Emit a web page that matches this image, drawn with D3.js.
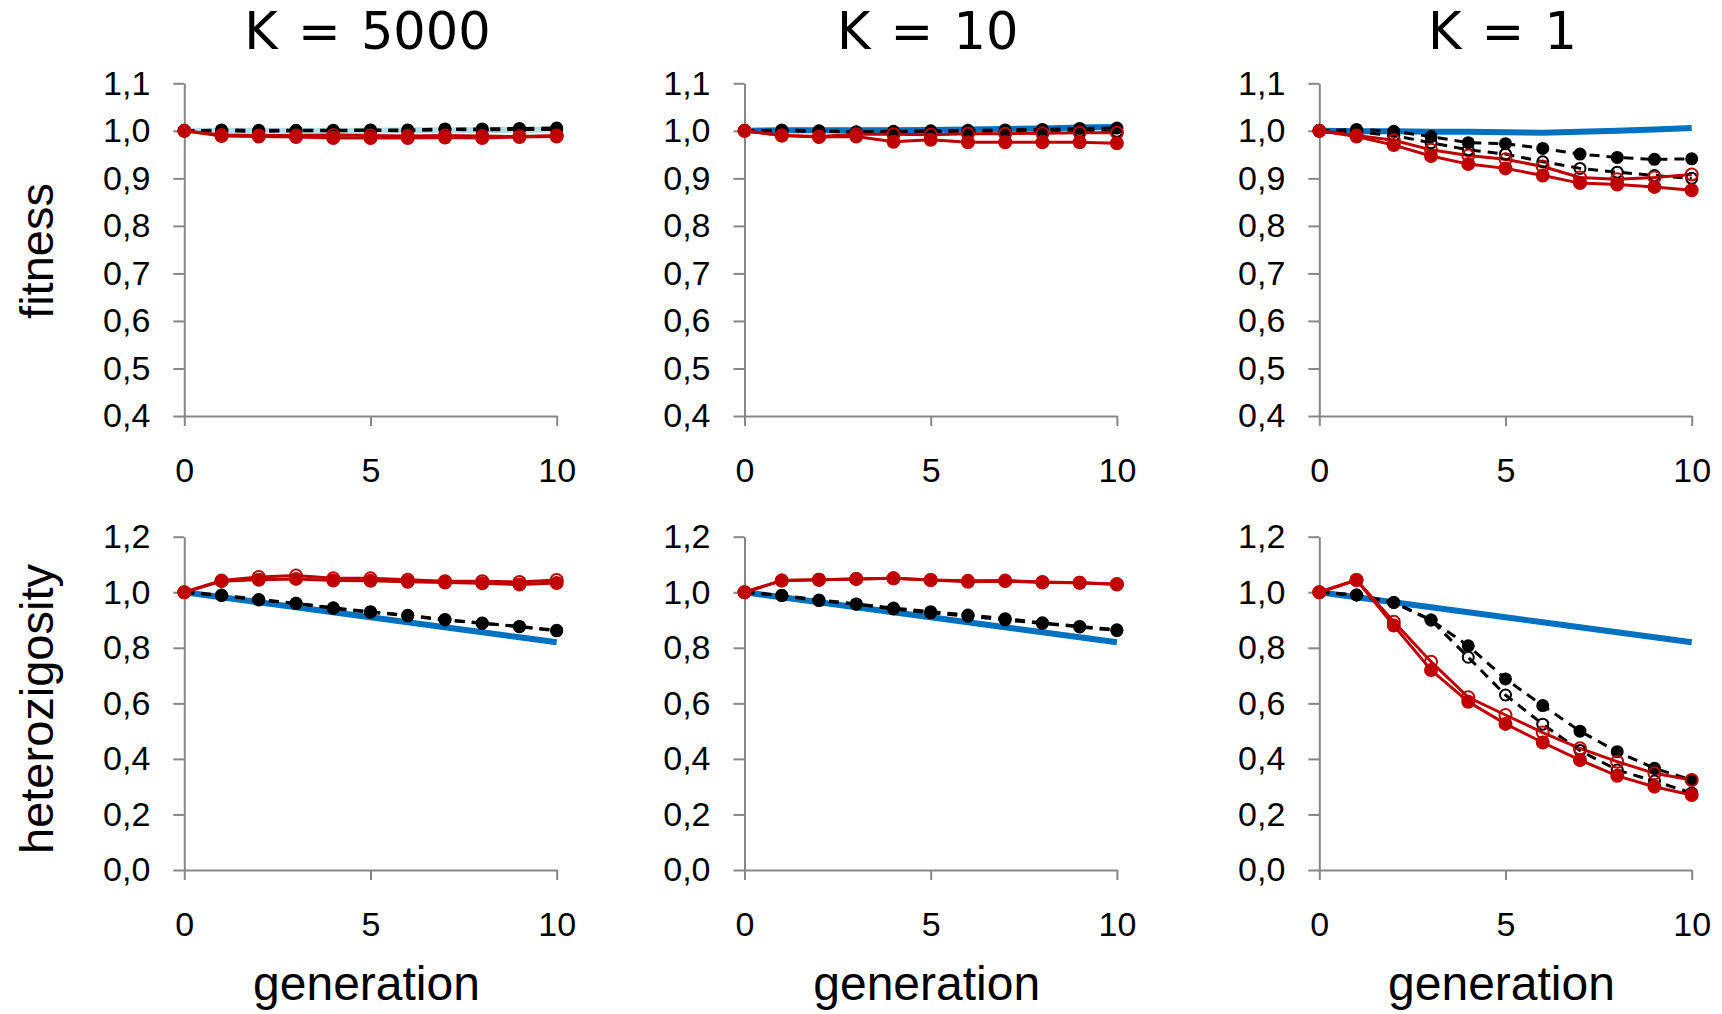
<!DOCTYPE html>
<html>
<head>
<meta charset="utf-8">
<script src="https://cdn.jsdelivr.net/npm/d3@7"></script>
<style>
  body { margin: 0; background: #fff; }
  text { font-family: "Liberation Sans", Arial, sans-serif; fill: #000; }
  .axis path, .axis line { stroke: #878787; stroke-width: 2; }
</style>
</head>
<body>
<div id="chart"></div>
<script>
// generations on the x axis
var generations = [0, 1, 2, 3, 4, 5, 6, 7, 8, 9, 10];
var xTicks = [0, 5, 10];
var fitTicks = [0.4, 0.5, 0.6, 0.7, 0.8, 0.9, 1.0, 1.1];
var hetTicks = [0.0, 0.2, 0.4, 0.6, 0.8, 1.0, 1.2];
var titles = ["K = 5000", "K = 10", "K = 1"];

// fitness, K = 5000
var fit5000Blue   = [1.0, 1.0, 1.0, 1.0, 1.0, 1.0, 1.001, 1.001, 1.002, 1.002, 1.003];
var fit5000BlackF = [1.0, 1.002, 1.001, 1.001, 1.001, 1.002, 1.002, 1.004, 1.004, 1.005, 1.006];
var fit5000BlackO = [1.0, 1.0, 0.999, 1.0, 1.0, 1.001, 1.0, 1.003, 1.002, 1.003, 1.003];
var fit5000RedO   = [1.0, 0.991, 0.99, 0.99, 0.991, 0.99, 0.989, 0.99, 0.989, 0.988, 0.99];
var fit5000RedF   = [1.0, 0.989, 0.988, 0.987, 0.985, 0.985, 0.985, 0.986, 0.985, 0.987, 0.988];
// fitness, K = 10
var fit10Blue   = [1.0, 1.001, 1.001, 1.001, 1.001, 1.002, 1.003, 1.004, 1.005, 1.007, 1.008];
var fit10BlackF = [1.0, 1.002, 1.0, 0.998, 0.999, 1.0, 1.001, 1.002, 1.003, 1.005, 1.006];
var fit10BlackO = [1.0, 1.0, 0.999, 0.997, 0.997, 0.998, 0.997, 0.999, 0.998, 0.999, 0.999];
var fit10RedO   = [1.0, 0.99, 0.988, 0.993, 0.993, 0.992, 0.994, 0.994, 0.995, 0.996, 0.996];
var fit10RedF   = [1.0, 0.99, 0.987, 0.988, 0.977, 0.981, 0.976, 0.976, 0.976, 0.976, 0.974];
// fitness, K = 1
var fit1Blue   = [1.0, 0.999, 0.999, 0.998, 0.998, 0.997, 0.996, 0.998, 1.0, 1.003, 1.006];
var fit1BlackF = [1.0, 1.003, 0.999, 0.988, 0.975, 0.973, 0.963, 0.951, 0.944, 0.94, 0.941];
var fit1BlackO = [1.0, 0.998, 0.99, 0.975, 0.96, 0.951, 0.935, 0.921, 0.913, 0.906, 0.9];
var fit1RedO   = [1.0, 0.99, 0.98, 0.96, 0.948, 0.94, 0.925, 0.902, 0.898, 0.902, 0.908];
var fit1RedF   = [1.0, 0.988, 0.97, 0.947, 0.93, 0.921, 0.906, 0.89, 0.887, 0.882, 0.875];

// heterozygosity, expected decline (same in every panel)
var hetBlue = [1.0, 0.982, 0.964, 0.946, 0.928, 0.91, 0.892, 0.874, 0.856, 0.838, 0.82];
// heterozygosity, K = 5000
var het5000BlackF = [1.0, 0.988, 0.972, 0.96, 0.942, 0.928, 0.915, 0.9, 0.888, 0.876, 0.861];
var het5000BlackO = [1.0, 0.99, 0.974, 0.96, 0.944, 0.93, 0.917, 0.902, 0.889, 0.877, 0.863];
var het5000RedO   = [1.0, 1.042, 1.055, 1.06, 1.05, 1.05, 1.045, 1.04, 1.04, 1.037, 1.044];
var het5000RedF   = [1.0, 1.04, 1.045, 1.048, 1.042, 1.041, 1.038, 1.035, 1.032, 1.028, 1.033];
// heterozygosity, K = 10
var het10BlackF = [1.0, 0.988, 0.97, 0.957, 0.94, 0.926, 0.914, 0.9, 0.888, 0.875, 0.862];
var het10BlackO = [1.0, 0.989, 0.972, 0.958, 0.943, 0.93, 0.918, 0.905, 0.89, 0.877, 0.865];
var het10RedO   = [1.0, 1.042, 1.045, 1.048, 1.05, 1.044, 1.038, 1.04, 1.035, 1.034, 1.03];
var het10RedF   = [1.0, 1.042, 1.045, 1.048, 1.05, 1.044, 1.041, 1.042, 1.037, 1.034, 1.028];
// heterozygosity, K = 1
var het1BlackF = [1.0, 0.99, 0.963, 0.9, 0.807, 0.688, 0.592, 0.5, 0.426, 0.366, 0.324];
var het1BlackO = [1.0, 0.99, 0.963, 0.9, 0.766, 0.63, 0.525, 0.43, 0.36, 0.32, 0.277];
var het1RedO   = [1.0, 1.044, 0.894, 0.75, 0.622, 0.558, 0.495, 0.438, 0.39, 0.348, 0.324];
var het1RedF   = [1.0, 1.044, 0.88, 0.72, 0.606, 0.526, 0.459, 0.396, 0.339, 0.30, 0.27];

var total_width = 1722, total_height = 1014;
var panelLeft = [184.3, 744.5, 1319.3], plotWidth = 372.4;
var rows = [
  {top: 83.3, bottom: 416, domain: [0.4, 1.1], ticks: fitTicks, label: "fitness", labelY: 251,
   panels: [
     {blue: fit5000Blue, blueColor: "#b7dde8", blackF: fit5000BlackF, blackO: fit5000BlackO, redO: fit5000RedO, redF: fit5000RedF},
     {blue: fit10Blue, blueColor: "#0070c0", blackF: fit10BlackF, blackO: fit10BlackO, redO: fit10RedO, redF: fit10RedF},
     {blue: fit1Blue, blueColor: "#0070c0", blackF: fit1BlackF, blackO: fit1BlackO, redO: fit1RedO, redF: fit1RedF}
   ]},
  {top: 536.7, bottom: 870, domain: [0, 1.2], ticks: hetTicks, label: "heterozigosity", labelY: 709,
   panels: [
     {blue: hetBlue, blueColor: "#0070c0", blackF: het5000BlackF, blackO: het5000BlackO, redO: het5000RedO, redF: het5000RedF},
     {blue: hetBlue, blueColor: "#0070c0", blackF: het10BlackF, blackO: het10BlackO, redO: het10RedO, redF: het10RedF},
     {blue: hetBlue, blueColor: "#0070c0", blackF: het1BlackF, blackO: het1BlackO, redO: het1RedO, redF: het1RedF}
   ]}
];

var locale = d3.formatLocale({decimal: ",", thousands: ".", grouping: [3], currency: ["", ""]});
var fmt1 = locale.format(".1f");

var svg = d3.select("#chart").append("svg")
    .attr("width", total_width)
    .attr("height", total_height);

// column titles (wider face, like the original)
titles.forEach(function (t, i) {
  svg.append("text")
      .attr("x", panelLeft[i] + plotWidth / 2 - 3)
      .attr("y", 49)
      .attr("text-anchor", "middle")
      .style("font-family", "'DejaVu Sans', Verdana, sans-serif")
      .style("font-size", "51px")
      .style("word-spacing", "4px")
      .text(t);
});

rows.forEach(function (row, r) {
  // row label
  svg.append("text")
      .attr("transform", "translate(53," + row.labelY + ") rotate(-90)")
      .attr("text-anchor", "middle")
      .style("font-size", "47px")
      .text(row.label);

  row.panels.forEach(function (p, c) {
    var x = d3.scaleLinear().domain([0, 10]).range([panelLeft[c], panelLeft[c] + plotWidth]);
    var y = d3.scaleLinear().domain(row.domain).range([row.bottom, row.top]);

    var g = svg.append("g");

    // axes
    g.append("g")
        .attr("class", "axis")
        .attr("transform", "translate(0," + row.bottom + ")")
        .call(d3.axisBottom(x).tickValues(xTicks).tickSize(10).tickSizeOuter(0).tickPadding(32).tickFormat(d3.format("d")))
        .call(function (a) { a.selectAll("text").style("font-size", "34px").attr("fill", "#000")
            .style("font-family", "Liberation Sans, Arial, sans-serif"); });
    g.append("g")
        .attr("class", "axis")
        .attr("transform", "translate(" + panelLeft[c] + ",0)")
        .call(d3.axisLeft(y).tickValues(row.ticks).tickSize(11).tickSizeOuter(0).tickPadding(23).tickFormat(fmt1))
        .call(function (a) { a.selectAll("text").style("font-size", "34px").attr("fill", "#000")
            .style("font-family", "Liberation Sans, Arial, sans-serif"); });

    var line = d3.line()
        .x(function (d, i) { return x(generations[i]); })
        .y(function (d) { return y(d); });

    // expected line
    g.append("path")
        .attr("d", line(p.blue))
        .attr("fill", "none")
        .attr("stroke", p.blueColor)
        .attr("stroke-width", 6);

    // black dashed series
    [p.blackO, p.blackF].forEach(function (s) {
      g.append("path")
          .attr("d", line(s))
          .attr("fill", "none")
          .attr("stroke", "#000")
          .attr("stroke-width", 3)
          .attr("stroke-dasharray", "10,7");
    });
    // red series
    [p.redO, p.redF].forEach(function (s) {
      g.append("path")
          .attr("d", line(s))
          .attr("fill", "none")
          .attr("stroke", "#c00000")
          .attr("stroke-width", 3);
    });

    // markers
    function dots(s, r0, fill, stroke) {
      g.append("g").selectAll("circle")
          .data(s)
          .enter()
          .append("circle")
            .attr("cx", function (d, i) { return x(generations[i]); })
            .attr("cy", function (d) { return y(d); })
            .attr("r", r0)
            .attr("fill", fill)
            .attr("stroke", stroke)
            .attr("stroke-width", 2);
    }
    dots(p.blackO, 5.5, "none", "#000");
    dots(p.blackF, 5.5, "#000", "#000");
    dots(p.redO, 6, "none", "#c00000");
    dots(p.redF, 6, "#c00000", "#c00000");

    if (r === 1) {
      g.append("text")
          .attr("x", panelLeft[c] + plotWidth / 2 - 4)
          .attr("y", 1000)
          .attr("text-anchor", "middle")
          .style("font-size", "48px")
          .text("generation");
    }
  });
});
</script>
</body>
</html>
